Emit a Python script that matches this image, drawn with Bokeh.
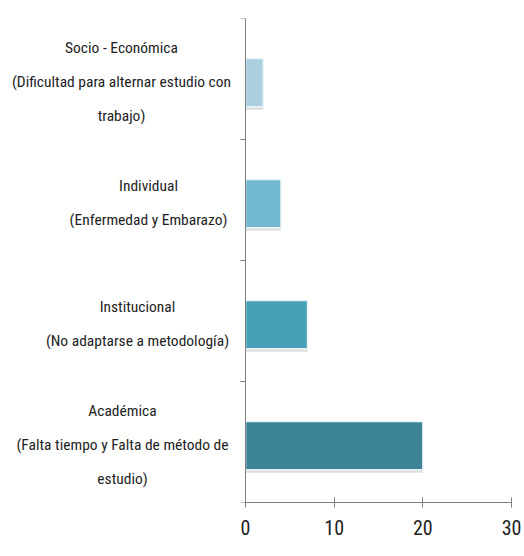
import math
from bokeh.plotting import figure
from bokeh.models import FixedTicker, ColumnDataSource, Range1d, Span
from bokeh.core.properties import value
from bokeh.transform import dodge
from bokeh.embed import file_html
from bokeh.resources import INLINE

# Data (bottom to top)
categories = [
    "Académica\n(Falta tiempo y Falta de método de\nestudio)",
    "Institucional\n(No adaptarse a metodología)",
    "Individual\n(Enfermedad y Embarazo)",
    "Socio - Económica\n(Dificultad para alternar estudio con\ntrabajo)",
]
values = [20, 7, 4, 2]
colors = ["#3d8497", "#45a0b5", "#72b8d0", "#aacfe0"]
x_ticks = [0, 10, 20, 30]

# styling: horizontal centre of each label block, in px left of the value axis
label_centres = [-123, -108, -97, -124]

FONT = "Roboto Condensed"
AXIS_COLOR = "#7f7f7f"

# layout: label area left of the value axis, value axis width in pixels
LABEL_PX = 245
AXIS_PX = 266
x_max = x_ticks[-1]
x_min = -x_max * LABEL_PX / AXIS_PX

n = len(categories)
pos = [i + 0.5 for i in range(n)]
bounds = list(range(n + 1))
src = ColumnDataSource(dict(y=pos, v=values, c=colors, base=[0] * n, cat=categories,
                            off=label_centres))

p = figure(
    width=524, height=548,
    frame_width=LABEL_PX + AXIS_PX, frame_height=484,
    x_range=Range1d(x_min, x_max), y_range=Range1d(0, n),
    output_backend="svg", toolbar_location=None,
    min_border_left=0, min_border_right=13, min_border_top=18, min_border_bottom=46,
)
p.outline_line_color = None
p.grid.visible = False
p.yaxis.visible = False

# bars with soft shadow
p.hbar(y=dodge("y", -0.055, range=p.y_range), left="base", right="v", height=0.4, source=src,
       fill_color="#000000", fill_alpha=0.13, line_color=None)
p.hbar(y=dodge("y", -0.03, range=p.y_range), left="base", right="v", height=0.4, source=src,
       fill_color="c", line_color="#eaf5f9", line_width=1.5)

# category axis (line at value 0 with boundary ticks)
p.add_layout(Span(location=0, dimension="height", line_color=AXIS_COLOR, line_width=1))
p.ray(x=[0] * len(bounds), y=bounds, length=5, length_units="screen", angle=math.pi,
      line_color=AXIS_COLOR, line_width=1)

# category labels
p.text(x="base", y="y", text="cat", source=src, x_offset="off", y_offset=3,
       text_align="center", text_baseline="middle",
       text_font=value(FONT), text_font_size=value("15.5px"), text_color="#1e1e1e",
       text_line_height=1.9)

# value axis
p.xaxis.bounds = (0, x_max)
p.xaxis.ticker = FixedTicker(ticks=x_ticks)
p.xaxis.axis_line_color = AXIS_COLOR
p.xaxis.major_tick_line_color = AXIS_COLOR
p.xaxis.major_tick_in = 5
p.xaxis.major_tick_out = 5
p.xaxis.minor_tick_line_color = None
p.xaxis.major_label_text_font = FONT
p.xaxis.major_label_text_font_size = "20px"
p.xaxis.major_label_text_color = "#1e1e1e"
p.xaxis.major_label_standoff = 12

open("out.html", "w").write(file_html(p, INLINE))
